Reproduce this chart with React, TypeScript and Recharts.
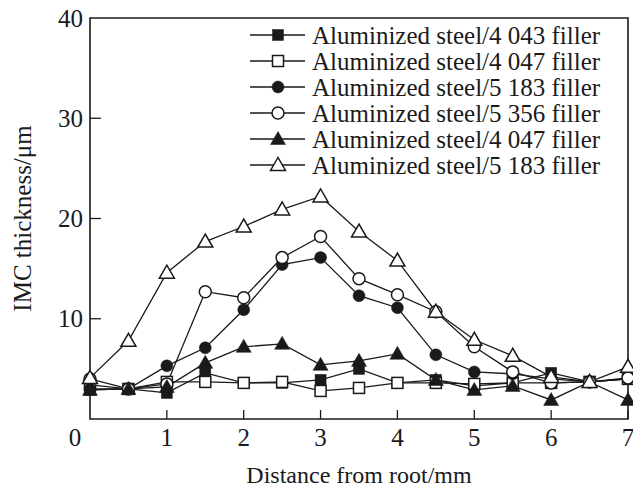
import { Label, Legend, Line, LineChart, ReferenceArea, XAxis, YAxis } from 'recharts';

// IMC thickness (µm) measured every 0.5 mm from the weld root
const distance = [0, 0.5, 1, 1.5, 2, 2.5, 3, 3.5, 4, 4.5, 5, 5.5, 6, 6.5, 7];
const steel4043 = [2.9, 3.0, 2.6, 4.6, 3.6, 3.6, 3.9, 5.0, 3.6, 3.9, 3.3, 3.6, 4.6, 3.7, 4.0];
const steel4047 = [3.4, 3.0, 3.7, 3.7, 3.6, 3.7, 2.8, 3.1, 3.6, 3.6, 3.5, 3.6, 3.6, 3.7, 4.0];
const steel5183 = [3.0, 3.0, 5.3, 7.1, 10.9, 15.4, 16.1, 12.3, 11.1, 6.4, 4.7, 4.5, 4.0, 3.7, 4.0];
const steel5356 = [4.0, 3.0, 3.5, 12.7, 12.1, 16.1, 18.2, 14.0, 12.4, 10.7, 7.2, 4.7, 3.6, 3.7, 4.1];
const steel4047b = [2.9, 3.0, 3.2, 5.6, 7.2, 7.5, 5.4, 5.8, 6.5, 3.9, 2.9, 3.3, 1.9, 3.7, 1.9];
const steel5183b = [4.1, 7.8, 14.6, 17.7, 19.2, 20.9, 22.2, 18.7, 15.8, 10.7, 7.9, 6.3, 4.2, 3.7, 5.2];

const xTicks = [0, 1, 2, 3, 4, 5, 6, 7];
const yTicks = [10, 20, 30, 40];

const FONT = "'Liberation Serif', 'Times New Roman', serif";
const INK = '#1a1a1a';

type MarkerKind = 'square' | 'openSquare' | 'circle' | 'openCircle' | 'triangle' | 'openTriangle';

const series: { key: string; name: string; marker: MarkerKind }[] = [
  { key: 's4043', name: 'Aluminized steel/4 043 filler', marker: 'square' },
  { key: 's4047', name: 'Aluminized steel/4 047 filler', marker: 'openSquare' },
  { key: 's5183', name: 'Aluminized steel/5 183 filler', marker: 'circle' },
  { key: 's5356', name: 'Aluminized steel/5 356 filler', marker: 'openCircle' },
  { key: 's4047b', name: 'Aluminized steel/4 047 filler', marker: 'triangle' },
  { key: 's5183b', name: 'Aluminized steel/5 183 filler', marker: 'openTriangle' },
];

const data = distance.map((d, i) => ({
  d,
  s4043: steel4043[i],
  s4047: steel4047[i],
  s5183: steel5183[i],
  s5356: steel5356[i],
  s4047b: steel4047b[i],
  s5183b: steel5183b[i],
}));

function Marker({ kind, cx, cy }: { kind: MarkerKind; cx: number; cy: number }) {
  const open = kind.startsWith('open');
  const fill = open ? '#fff' : INK;
  const sw = open ? 1.5 : 0.5;
  if (kind === 'square' || kind === 'openSquare') {
    return <rect x={cx - 5.5} y={cy - 5.5} width={11} height={11} fill={fill} stroke={INK} strokeWidth={sw} />;
  }
  if (kind === 'circle' || kind === 'openCircle') {
    return <circle cx={cx} cy={cy} r={6} fill={fill} stroke={INK} strokeWidth={sw} />;
  }
  const pts = `${cx},${cy - 7.5} ${cx - 7.5},${cy + 5.5} ${cx + 7.5},${cy + 5.5}`;
  return <polygon points={pts} fill={fill} stroke={INK} strokeWidth={sw} />;
}

function XTick({ x, y, payload }: any) {
  const v = payload.value;
  return (
    <g>
      {v !== 0 && <line x1={x} x2={x} y1={y} y2={y - 9} stroke={INK} strokeWidth={1.3} />}
      <text
        x={v === 0 ? x - 15 : x}
        y={y + 18}
        textAnchor="middle"
        dominantBaseline="central"
        fontFamily={FONT}
        fontSize={25}
        fill={INK}
      >
        {v}
      </text>
    </g>
  );
}

function YTick({ x, y, payload }: any) {
  const v = payload.value;
  return (
    <g>
      {v !== 40 && <line x1={x} x2={x + 11} y1={y} y2={y} stroke={INK} strokeWidth={1.3} />}
      <text x={x - 7} y={y} textAnchor="end" dominantBaseline="central" fontFamily={FONT} fontSize={25} fill={INK}>
        {v}
      </text>
    </g>
  );
}

// keep the legend rows in the same order as the series list
function SeriesLegend({ payload }: any) {
  const items = ((payload ?? []) as any[])
    .slice()
    .sort(
      (a, b) =>
        series.findIndex((s) => s.key === a.dataKey) - series.findIndex((s) => s.key === b.dataKey),
    );
  return (
    <svg width={380} height={165}>
      {items.map((item, i) => {
        const s = series.find((e) => e.key === item.dataKey);
        const cy = 13 + i * 26;
        return (
          <g key={`${item.dataKey}`}>
            <line x1={2} x2={57} y1={cy} y2={cy} stroke={INK} strokeWidth={1.3} />
            {s && <Marker kind={s.marker} cx={30} cy={cy} />}
            <text x={64} y={cy} dominantBaseline="central" fontFamily={FONT} fontSize={25} fill={INK}>
              {item.value}
            </text>
          </g>
        );
      })}
    </svg>
  );
}

export default function App() {
  return (
    <div style={{ position: 'absolute', left: 0, top: 0, background: '#fff' }}>
      <LineChart width={633} height={489} data={data} margin={{ top: 18, right: 5, bottom: 0, left: 0 }}>
        <ReferenceArea x1={0} x2={7} y1={0} y2={40} fill="none" stroke={INK} strokeWidth={1.6} />
        <XAxis
          dataKey="d"
          type="number"
          domain={[0, 7]}
          ticks={xTicks}
          height={70}
          axisLine={false}
          tickLine={false}
          tickSize={0}
          tickMargin={0}
          tick={<XTick />}
          interval={0}
        >
          <Label
            content={({ viewBox }: any) => (
              <text
                x={viewBox.x + viewBox.width / 2}
                y={viewBox.y + 56}
                textAnchor="middle"
                dominantBaseline="central"
                fontFamily={FONT}
                fontSize={24}
                fill={INK}
              >
                Distance from root/mm
              </text>
            )}
          />
        </XAxis>
        <YAxis
          type="number"
          domain={[0, 40]}
          ticks={yTicks}
          width={90}
          axisLine={false}
          tickLine={false}
          tickSize={0}
          tickMargin={0}
          tick={<YTick />}
          interval={0}
        >
          <Label
            content={({ viewBox }: any) => {
              const cx = viewBox.x + 22;
              const cy = viewBox.y + viewBox.height / 2;
              return (
                <text
                  x={cx}
                  y={cy}
                  transform={`rotate(-90 ${cx} ${cy})`}
                  textAnchor="middle"
                  dominantBaseline="central"
                  fontFamily={FONT}
                  fontSize={25}
                  fill={INK}
                >
                  IMC thickness/μm
                </text>
              );
            }}
          />
        </YAxis>
        <Legend
          layout="vertical"
          align="center"
          verticalAlign="middle"
          wrapperStyle={{ left: 248, top: 22, width: 380 }}
          content={<SeriesLegend />}
        />
        {series.map((s) => (
          <Line
            key={s.key}
            dataKey={s.key}
            name={s.name}
            stroke={INK}
            strokeWidth={1.3}
            isAnimationActive={false}
            dot={(p: any) => <Marker key={`${s.key}-${p.index}`} kind={s.marker} cx={p.cx} cy={p.cy} />}
            activeDot={false}
          />
        ))}
      </LineChart>
    </div>
  );
}
